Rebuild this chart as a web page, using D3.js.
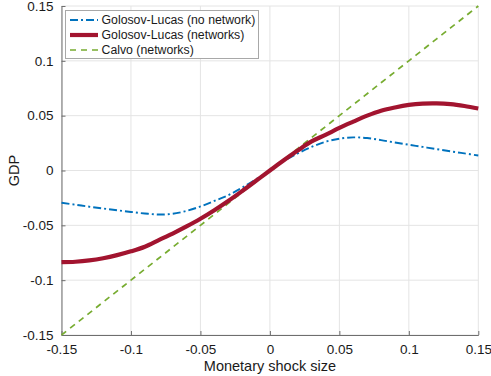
<!DOCTYPE html>
<html>
<head>
<meta charset="utf-8">
<script src="https://cdn.jsdelivr.net/npm/d3@7"></script>
<style>
  html, body { margin: 0; padding: 0; background: #fff; }
  svg { display: block; font-family: "Liberation Sans", Arial, Helvetica, sans-serif; }
</style>
</head>
<body>
<svg id="chart" width="491" height="376"></svg>
<script>
// ---- data ----
const shock = [-0.15,-0.14,-0.13,-0.12,-0.11,-0.10,-0.09,-0.08,-0.07,-0.06,-0.05,-0.04,-0.03,-0.02,-0.01,
               0,0.01,0.02,0.03,0.04,0.05,0.06,0.07,0.08,0.09,0.10,0.11,0.12,0.13,0.14,0.15];
const glNoNetwork = [-0.0294,-0.0312,-0.0330,-0.0347,-0.0363,-0.0378,-0.0392,-0.0401,-0.0395,-0.0368,-0.0328,-0.0278,-0.0225,-0.0157,-0.0080,
               0,0.0085,0.0155,0.0215,0.0262,0.0290,0.0302,0.0296,0.0277,0.0255,0.0235,0.0215,0.0195,0.0175,0.0156,0.0137];
const glNetworks = [-0.0836,-0.0832,-0.0820,-0.0800,-0.0772,-0.0737,-0.0695,-0.0635,-0.0575,-0.0510,-0.0440,-0.0362,-0.0278,-0.0188,-0.0094,
               0,0.0093,0.0182,0.0265,0.0325,0.0388,0.0445,0.0500,0.0545,0.0575,0.0598,0.0610,0.0612,0.0605,0.0588,0.0565];
const calvoNetworks = [-0.15,-0.14,-0.13,-0.12,-0.11,-0.10,-0.09,-0.08,-0.07,-0.06,-0.05,-0.04,-0.03,-0.02,-0.01,
               0,0.01,0.02,0.03,0.04,0.05,0.06,0.07,0.08,0.09,0.10,0.11,0.12,0.13,0.14,0.15];
const tickValues = [-0.15,-0.1,-0.05,0,0.05,0.1,0.15];
const tickLabels = ["-0.15","-0.1","-0.05","0","0.05","0.1","0.15"];
const seriesNames = ["Golosov-Lucas (no network)","Golosov-Lucas (networks)","Calvo (networks)"];
const xTitle = "Monetary shock size";
const yTitle = "GDP";

// ---- layout ----
const svg = d3.select("#chart");
const L = 61.5, R = 478.3, T = 6, B = 335;
const x = d3.scaleLinear().domain([-0.15, 0.15]).range([L, R]);
const y = d3.scaleLinear().domain([-0.15, 0.15]).range([B, T]);

// grid
const grid = svg.append("g");
grid.selectAll("line.gx").data(tickValues).join("line")
  .attr("x1", d => x(d)).attr("x2", d => x(d)).attr("y1", T).attr("y2", B)
  .attr("stroke", "#e4e4e4").attr("stroke-width", 1);
grid.selectAll("line.gy").data(tickValues).join("line")
  .attr("class","gy")
  .attr("x1", L).attr("x2", R).attr("y1", d => y(d)).attr("y2", d => y(d))
  .attr("stroke", "#e4e4e4").attr("stroke-width", 1);

// axes
const fmt = d => tickLabels[tickValues.indexOf(d)];
const xAxis = d3.axisBottom(x).tickValues(tickValues).tickFormat(fmt).tickSizeInner(-4).tickSizeOuter(0).tickPadding(8);
const yAxis = d3.axisLeft(y).tickValues(tickValues).tickFormat(fmt).tickSizeInner(-4).tickSizeOuter(0).tickPadding(8);
const gx = svg.append("g").attr("transform", `translate(0,${B})`).call(xAxis);
const gy = svg.append("g").attr("transform", `translate(${L},0)`).call(yAxis);
[gx, gy].forEach(g => {
  g.select(".domain").attr("stroke", "#6e6e6e").attr("stroke-width", 1);
  g.selectAll(".tick line").attr("stroke", "#6e6e6e");
  g.selectAll(".tick text").attr("fill", "#1a1a1a").style("font-size", "13.5px")
   .style("font-family", '"Liberation Sans", Arial, sans-serif');
});
gx.selectAll(".tick text").attr("dy", "0.82em");
gy.selectAll(".tick text").attr("dx", "0");

// axis titles
svg.append("text").attr("x", (L + R) / 2).attr("y", 371).attr("text-anchor", "middle")
  .style("font-size", "14.5px").attr("fill", "#1a1a1a").text(xTitle);
svg.append("text").attr("transform", `translate(19,${(T + B) / 2}) rotate(-90)`).attr("text-anchor", "middle")
  .style("font-size", "14.5px").attr("fill", "#1a1a1a").text(yTitle);

// lines
const line = (ys) => d3.line().x((d, i) => x(shock[i])).y(d => y(d)).curve(d3.curveCatmullRom.alpha(0.5))(ys);
const styles = [
  { color: "#0072BD", width: 1.9, dash: "8,3,2,3" },
  { color: "#A2142F", width: 4.2, dash: null },
  { color: "#77AC30", width: 1.7, dash: "6,5" }
];
const plot = svg.append("g");
[calvoNetworks, glNoNetwork, glNetworks].forEach((ys) => {
  const idx = ys === glNoNetwork ? 0 : ys === glNetworks ? 1 : 2;
  const s = styles[idx];
  plot.append("path").attr("d", line(ys)).attr("fill", "none")
    .attr("stroke", s.color).attr("stroke-width", s.width)
    .attr("stroke-dasharray", s.dash).attr("stroke-linejoin", "round");
});

// legend
const lg = svg.append("g");
lg.append("rect").attr("x", 65.5).attr("y", 10.5).attr("width", 193).attr("height", 48)
  .attr("fill", "#fff").attr("stroke", "#a8a8a8").attr("stroke-width", 1);
seriesNames.forEach((name, i) => {
  const cy = 20 + i * 15;
  const s = styles[i];
  lg.append("line").attr("x1", 70).attr("x2", 98).attr("y1", cy).attr("y2", cy)
    .attr("stroke", s.color).attr("stroke-width", s.width).attr("stroke-dasharray", s.dash);
  lg.append("text").attr("x", 101.5).attr("y", cy).attr("dy", "0.35em")
    .style("font-size", "12.3px").attr("fill", "#1a1a1a").text(name);
});
</script>
</body>
</html>
